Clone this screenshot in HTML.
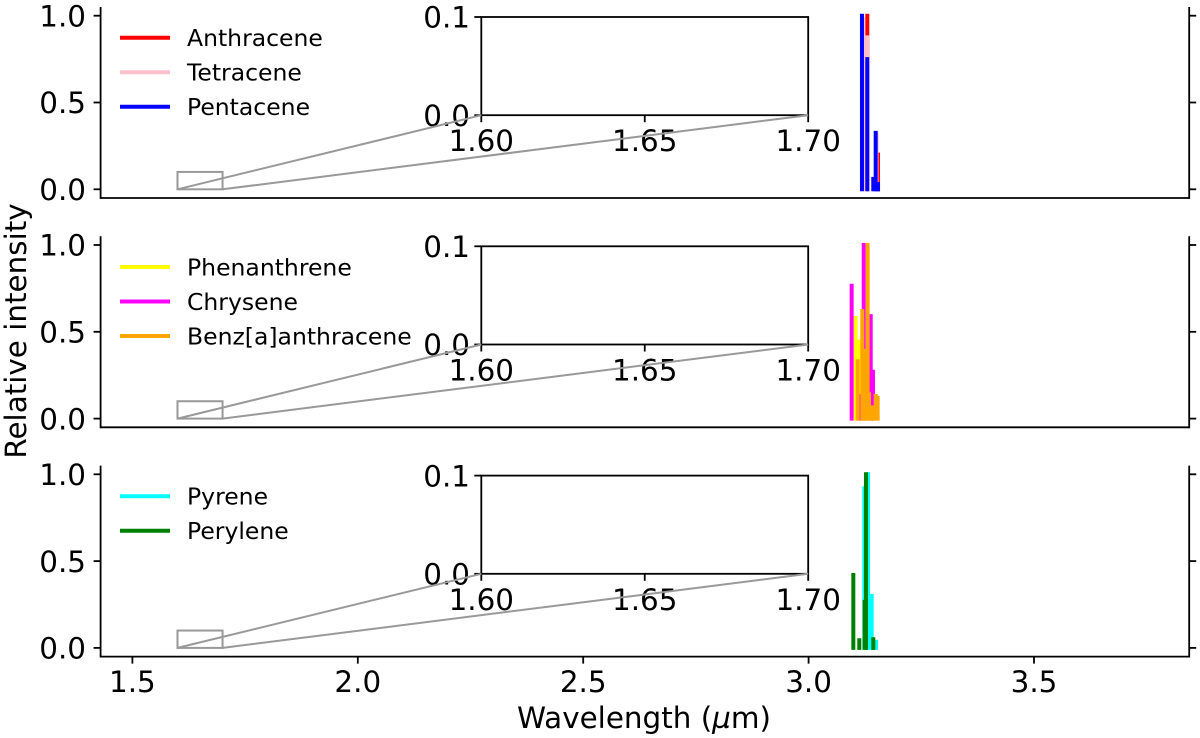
<!DOCTYPE html>
<html lang="en">
<head>
<meta charset="utf-8">
<title>Relative intensity spectra</title>
<style>
html,body{margin:0;padding:0;background:#fff;}
svg{display:block;}
text{font-family:"DejaVu Sans","Liberation Sans",sans-serif;fill:#000;}
</style>
</head>
<body>
<svg id="chart" xmlns="http://www.w3.org/2000/svg" width="1200" height="738" viewBox="0 0 1200 738"></svg>
<script>
const xTicks = [1.5, 2.0, 2.5, 3.0, 3.5];
const yTicks = [0.0, 0.5, 1.0];
const insetXTicks = [1.60, 1.65, 1.70];
const insetYTicks = [0.0, 0.1];

const anthraceneWave = [3.1302, 3.1540];
const anthraceneInt = [1.0, 0.20];
const tetraceneWave = [3.1211, 3.1302, 3.1506];
const tetraceneInt = [0.98, 0.875, 0.32];
const pentaceneWave = [3.1184, 3.1302, 3.1488, 3.1435, 3.1540];
const pentaceneInt = [1.0, 0.75, 0.325, 0.06, 0.03];

const phenanthreneWave = [3.1044, 3.1133];
const phenanthreneInt = [0.58, 0.445];
const chryseneWave = [3.0955, 3.1222, 3.1378, 3.1428, 3.1140];
const chryseneInt = [0.765, 1.0, 0.59, 0.27, 0.13];
const benzWave = [3.1089, 3.1191, 3.1310, 3.1273, 3.1251, 3.1340, 3.1407, 3.1488, 3.1532];
const benzInt = [0.33, 0.62, 1.0, 0.39, 0.14, 0.14, 0.065, 0.13, 0.12];

const pyreneWave = [3.1236, 3.1318, 3.1399, 3.1495];
const pyreneInt = [0.92, 1.0, 0.30, 0.035];
const peryleneWave = [3.0992, 3.1125, 3.1273, 3.1243, 3.1435];
const peryleneInt = [0.42, 0.044, 1.0, 0.265, 0.05];

const panel1Names = ['Anthracene', 'Tetracene', 'Pentacene'];
const panel2Names = ['Phenanthrene', 'Chrysene', 'Benz[a]anthracene'];
const panel3Names = ['Pyrene', 'Perylene'];

const NS = 'http://www.w3.org/2000/svg';
const svg = document.getElementById('chart');
const slug = s => s.toLowerCase().replace(/[^a-z0-9]+/g, '-').replace(/^-|-$/g, '');
const X = v => 132.4 + (v - 1.5) * 450.8;
const SPINE = 1.8;
const INK = '#000';
const TICK_FONT = 29.4;

function make(tag, parent, props) {
  const el = document.createElementNS(NS, tag);
  for (const k in props) el.setAttribute(k, props[k]);
  parent.appendChild(el);
  return el;
}
function line(parent, name, x1, y1, x2, y2, stroke, width, cap) {
  const el = make('line', parent, {x1: x1, y1: y1, x2: x2, y2: y2, stroke: stroke, 'stroke-width': width, 'stroke-linecap': cap || 'butt'});
  
  
  return el;
}
function label(parent, name, x, y, str, size, anchor) {
  const el = make('text', parent, {x: x, y: y, 'font-size': size, 'text-anchor': anchor || 'start'});
  el.textContent = str;
  
  
  return el;
}

function drawPanel(cfg) {
  const g = make('g', svg, {});
  
  
  const y1 = cfg.y1, y0 = y1 + 173.6, bottom = y0 + 8.7, top = y1 - 8.7;
  const Y = v => y0 - v * 173.6;
  const left = 100.6, right = 1189.2;

  // series
  cfg.series.forEach(s => {
    const sg = make('g', g, {});
    
    
    s.wave.forEach((w, i) => {
      line(sg, 'peak-' + slug(s.label), X(w), Y(0), X(w), Y(s.values[i]), s.color, 4, 'square');
    });
  });

  // spines
  line(g, 'left-spine', left, top, left, bottom + SPINE / 2, INK, SPINE);
  line(g, 'right-spine', right, top, right, bottom + SPINE / 2, INK, SPINE);
  line(g, 'bottom-spine', left, bottom, right, bottom, INK, SPINE);

  // y ticks
  yTicks.forEach(t => {
    line(g, 'y-tick-left', left - 7, Y(t), left, Y(t), INK, SPINE);
    line(g, 'y-tick-right', right, Y(t), right + 7, Y(t), INK, SPINE);
    label(g, 'y-tick-label', 86, Y(t) + 10.7, t.toFixed(1), TICK_FONT, 'end');
  });

  // legend
  const lg = make('g', g, {});
  
  
  cfg.series.forEach((s, i) => {
    const ly = y1 + 22 + i * 34.5;
    line(lg, 'legend-line-' + slug(s.label), 120, ly, 170, ly, s.color, 4);
    label(lg, 'legend-label-' + slug(s.label), 187, ly + 8.3, s.label, 23.5);
  });

  // inset
  const ig = make('g', g, {});
  
  
  const iL = 481.3, iR = 808.2, iT = y1 + 1.3, iB = y1 + 99.5;
  const iX = v => iL + (v - 1.6) / 0.1 * (iR - iL);
  const iY = v => iB - v / 0.1 * (iB - iT);
  const box = make('rect', ig, {x: iL, y: iT, width: iR - iL, height: iB - iT, fill: '#fff', stroke: INK, 'stroke-width': SPINE});
  
  
  insetXTicks.forEach(t => {
    line(ig, 'inset-x-tick', iX(t), iB, iX(t), iB + 7, INK, SPINE);
    label(ig, 'inset-x-tick-label', iX(t), iB + 36, t.toFixed(2), TICK_FONT, 'middle');
  });
  insetYTicks.forEach(t => {
    line(ig, 'inset-y-tick', iL - 7, iY(t), iL, iY(t), INK, SPINE);
    label(ig, 'inset-y-tick-label', 470, iY(t) + 10.7, t.toFixed(1), TICK_FONT, 'end');
  });

  // zoom indicator
  const zg = make('g', g, {});
  
  
  const zr = make('rect', zg, {x: X(1.6), y: Y(0.1), width: X(1.7) - X(1.6), height: Y(0) - Y(0.1), fill: 'none', stroke: '#999', 'stroke-width': 2});
  
  
  line(zg, 'zoom-connector-left', X(1.6), Y(0), iL, iB, '#999', 2);
  line(zg, 'zoom-connector-right', X(1.7), Y(0), iR, iB, '#999', 2);

  // x ticks
  if (cfg.xAxis) {
    xTicks.forEach(t => {
      line(g, 'x-tick', X(t), bottom, X(t), bottom + 7, INK, SPINE);
      label(g, 'x-tick-label', X(t), bottom + 35.5, t.toFixed(1), TICK_FONT, 'middle');
    });
  }
}

drawPanel({name: 'panel-acenes', y1: 15.7, xAxis: false, series: [
  {label: panel1Names[0], color: '#ff0000', wave: anthraceneWave, values: anthraceneInt},
  {label: panel1Names[1], color: '#ffc0cb', wave: tetraceneWave, values: tetraceneInt},
  {label: panel1Names[2], color: '#0000ff', wave: pentaceneWave, values: pentaceneInt}
]});
drawPanel({name: 'panel-phenacenes', y1: 245, xAxis: false, series: [
  {label: panel2Names[0], color: '#ffff00', wave: phenanthreneWave, values: phenanthreneInt},
  {label: panel2Names[1], color: '#ff00ff', wave: chryseneWave, values: chryseneInt},
  {label: panel2Names[2], color: '#ffa500', wave: benzWave, values: benzInt}
]});
drawPanel({name: 'panel-peri-condensed', y1: 474.3, xAxis: true, series: [
  {label: panel3Names[0], color: '#00ffff', wave: pyreneWave, values: pyreneInt},
  {label: panel3Names[1], color: '#008000', wave: peryleneWave, values: peryleneInt}
]});

const yTitle = label(svg, 'y-axis-title', 0, 0, 'Relative intensity', 29.4, 'middle');
yTitle.setAttribute('transform', 'translate(26 331) rotate(-90)');

const xTitle = label(svg, 'x-axis-title', 644, 728, 'Wavelength (', 29.4, 'middle');
const mu = make('tspan', xTitle, {'font-style': 'italic'});
mu.textContent = 'µ';


const um = make('tspan', xTitle, {});
um.textContent = 'm)';


</script>
</body>
</html>
